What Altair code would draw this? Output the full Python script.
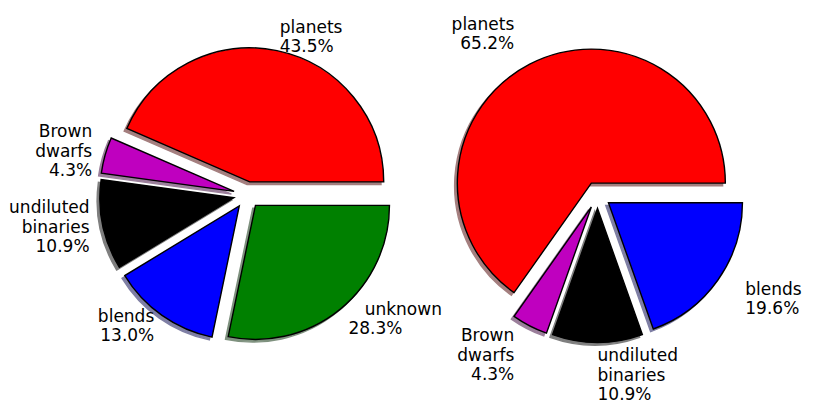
import altair as alt
import pandas as pd

# ---- data ----
LEFT_NAMES = ["planets", "Brown\ndwarfs", "undiluted\nbinaries", "blends",
              "\u200b\u00a0\u00a0\u00a0unknown"]
LEFT_COUNTS = [20, 2, 5, 6, 13]
LEFT_COLORS = ["#ff0000", "#bf00bf", "#000000", "#0000ff", "#008000"]
LEFT_EXPLODE = [0.1, 0.1, 0.1, 0.1, 0.1]

RIGHT_NAMES = ["planets", "Brown\ndwarfs", "undiluted\nbinaries", "blends"]
RIGHT_COUNTS = [30, 2, 5, 9]
RIGHT_COLORS = ["#ff0000", "#bf00bf", "#000000", "#0000ff"]
RIGHT_EXPLODE = [0.1, 0.1, 0.1, 0.1]

# ---- layout ----
R = 134
CY = 187
PIE_CX = {"left": 239, "right": 589.5}
LABEL_DIST = {"left": 1.1, "right": 1.25}
LINE_H = 19.5


def shade(hex_color, f=0.3):
    h = hex_color.lstrip("#")
    r, g, b = (int(h[i:i + 2], 16) for i in (0, 2, 4))
    return "#%02x%02x%02x" % (int(r * f), int(g * f), int(b * f))


rows = []
for pie, names, counts, colors, expl in [
    ("left", LEFT_NAMES, LEFT_COUNTS, LEFT_COLORS, LEFT_EXPLODE),
    ("right", RIGHT_NAMES, RIGHT_COUNTS, RIGHT_COLORS, RIGHT_EXPLODE),
]:
    for i, (n, v, c, e) in enumerate(zip(names, counts, colors, expl)):
        rows.append(dict(pie=pie, order=i, name=n, value=v, color=c,
                         shadow=shade(c), explode=e, pcx=PIE_CX[pie],
                         ld=LABEL_DIST[pie]))
df = pd.DataFrame(rows)

FONT = "DejaVu Sans"

shadow = alt.Chart().mark_arc(
    outerRadius=R, xOffset=-2.7, yOffset=2.7, opacity=0.5, strokeWidth=1.4
).encode(
    x=alt.X("cx:Q", scale=None),
    y=alt.Y("cy:Q", scale=None),
    theta=alt.Theta("t0:Q", scale=None, stack=None),
    theta2=alt.Theta2("t1:Q"),
    fill=alt.Fill("shadow:N", scale=None),
    stroke=alt.Stroke("shadow:N", scale=None),
)

slices = alt.Chart().mark_arc(
    outerRadius=R, stroke="black", strokeWidth=1.4
).encode(
    x=alt.X("cx:Q", scale=None),
    y=alt.Y("cy:Q", scale=None),
    theta=alt.Theta("t0:Q", scale=None, stack=None),
    theta2=alt.Theta2("t1:Q"),
    fill=alt.Fill("color:N", scale=None),
)


def labels(side, align):
    return alt.Chart().mark_text(
        align=align, baseline="middle", font=FONT, fontSize=17,
        lineHeight=LINE_H, lineBreak="\n", color="black"
    ).encode(
        x=alt.X("lx:Q", scale=None),
        y=alt.Y("ly2:Q", scale=None),
        text="label:N",
    ).transform_filter(f"datum.side == '{side}'")


chart = alt.layer(
    shadow, slices, labels("L", "left"), labels("R", "right"), data=df
).transform_window(
    cum="sum(value)", groupby=["pie"], sort=[alt.SortField("order")], frame=[None, 0]
).transform_joinaggregate(
    total="sum(value)", groupby=["pie"]
).transform_calculate(
    a0="2*PI*(datum.cum - datum.value)/datum.total",
    a1="2*PI*datum.cum/datum.total",
).transform_calculate(
    am="(datum.a0 + datum.a1)/2",
    t0="2.5*PI - datum.a1",
    t1="2.5*PI - datum.a0",
).transform_calculate(
    cx=f"datum.pcx + datum.explode*{R}*cos(datum.am)",
    cy=f"{CY} - datum.explode*{R}*sin(datum.am)",
).transform_calculate(
    lx=f"datum.cx + datum.ld*{R}*cos(datum.am)",
    ly=f"datum.cy - datum.ld*{R}*sin(datum.am)",
    side="cos(datum.am) >= -1e-9 ? 'L' : 'R'",
    label="datum.name + '\\n' + format(100*datum.value/datum.total, '.1f') + '%'",
).transform_calculate(
    ly2=f"datum.ly - (length(split(datum.label, '\\n')) - 1)*{LINE_H}/2",
).properties(
    width=814, height=399, padding=0, autosize="none"
).configure_view(stroke=None)

chart.save("out.html", embed_options={"renderer": "svg", "actions": False})
